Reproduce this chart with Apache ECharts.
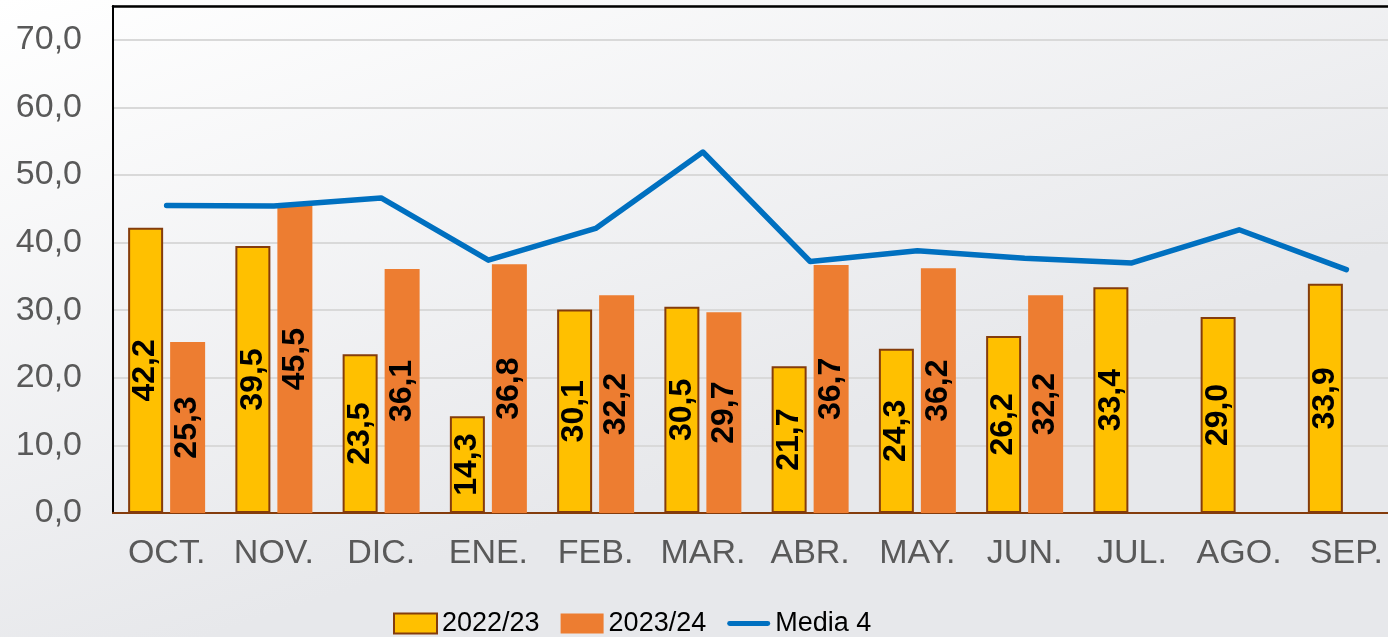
<!DOCTYPE html>
<html>
<head>
<meta charset="utf-8">
<script src="https://cdn.jsdelivr.net/npm/echarts@6/dist/echarts.min.js"></script>
<style>
  html, body { margin: 0; padding: 0; }
  #chart { width: 1388px; height: 637px; }
</style>
</head>
<body>
<div id="chart"></div>
<script>
const months = ['OCT.', 'NOV.', 'DIC.', 'ENE.', 'FEB.', 'MAR.', 'ABR.', 'MAY.', 'JUN.', 'JUL.', 'AGO.', 'SEP.']
const season2223 = [42.2, 39.5, 23.5, 14.3, 30.1, 30.5, 21.7, 24.3, 26.2, 33.4, 29.0, 33.9]
const season2324 = [25.3, 45.5, 36.1, 36.8, 32.2, 29.7, 36.7, 36.2, 32.2, null, null, null]
const media4 = [45.5, 45.4, 46.6, 37.4, 42.1, 53.4, 37.2, 38.8, 37.7, 37.0, 41.9, 36.0]

const fmt = v => Number(v).toFixed(1).replace('.', ',')
const font = '"Liberation Sans", Arial, sans-serif'

const barLabel = {
  show: true,
  position: 'inside',
  rotate: 90,
  color: '#000',
  fontFamily: font,
  fontWeight: 'bold',
  fontSize: 32,
  formatter: p => fmt(p.value)
}

const chart = echarts.init(document.getElementById('chart'))
chart.setOption({
  animation: false,
  backgroundColor: {
    type: 'linear', x: 0, y: 0, x2: 0.15, y2: 1,
    colorStops: [
      { offset: 0, color: '#ffffff' },
      { offset: 1, color: '#e7e8eb' }
    ]
  },
  grid: {
    left: 113,
    width: 1287,
    top: 6,
    bottom: 124,
    outerBoundsMode: 'none',
    containLabel: false
  },
  legend: {
    left: 388,
    top: 605,
    itemWidth: 43,
    itemHeight: 20,
    itemGap: 21,
    textStyle: {
      fontFamily: font,
      fontSize: 27,
      color: '#000'
    },
    data: [
      { name: '2022/23', icon: 'rect' },
      { name: '2023/24', icon: 'rect' },
      { name: 'Media 4', icon: 'path://M2,0 L41,0 A2.5,2.5 0 0 1 41,5 L2,5 A2.5,2.5 0 0 1 2,0 Z' }
    ]
  },
  xAxis: [
    {
      type: 'category',
      data: months,
      axisLine: { lineStyle: { color: '#843C0C', width: 2 } },
      axisTick: { show: false },
      axisLabel: {
        interval: 0,
        color: '#595959',
        fontFamily: font,
        fontSize: 34,
        margin: 24
      }
    },
    {
      // top border of the plot box
      type: 'category',
      position: 'top',
      data: months,
      axisLine: { lineStyle: { color: '#000', width: 2.5 } },
      axisTick: { show: false },
      axisLabel: { show: false }
    }
  ],
  yAxis: {
    type: 'value',
    min: 0,
    max: 75,
    interval: 10,
    axisLine: { show: true, lineStyle: { color: '#000', width: 2 } },
    axisTick: { show: false },
    axisLabel: {
      color: '#595959',
      fontFamily: font,
      fontSize: 34,
      margin: 31,
      formatter: v => (v % 10 === 0 ? fmt(v) : '')
    },
    splitLine: { lineStyle: { color: '#d9d9d9', width: 2 } }
  },
  series: [
    {
      name: '2022/23',
      type: 'bar',
      data: season2223,
      barWidth: 35,
      barGap: '20%',
      itemStyle: { color: '#FFC000', borderColor: '#843C0C', borderWidth: 2 },
      label: barLabel
    },
    {
      name: '2023/24',
      type: 'bar',
      data: season2324,
      barWidth: 35,
      itemStyle: { color: '#ED7D31' },
      label: barLabel
    },
    {
      name: 'Media 4',
      type: 'line',
      data: media4,
      symbol: 'none',
      z: 5,
      itemStyle: { color: '#0070C0' },
      lineStyle: { color: '#0070C0', width: 5.5, cap: 'round', join: 'round' }
    }
  ]
})
</script>
</body>
</html>
